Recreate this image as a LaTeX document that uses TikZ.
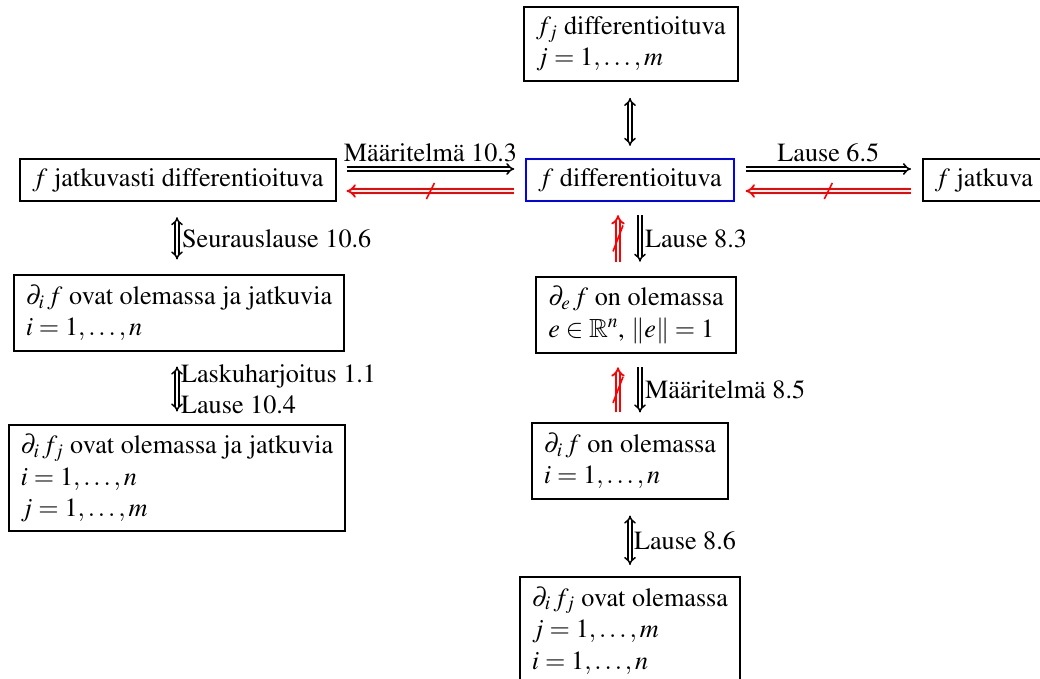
\documentclass[tikz,border=0pt]{standalone}
\usepackage[T1]{fontenc}
\usepackage{amssymb}
\usepackage{mathptmx}
\usetikzlibrary{arrows.meta,calc}
\begin{document}
\begin{tikzpicture}[x=1pt,y=-1pt,
  every node/.style={font=\fontsize{26.2}{31.5}\selectfont},
  box/.style={draw, line width=2pt, align=left, inner xsep=12pt, inner ysep=9.5pt},
  bluebox/.style={box, draw=blue},
  imp/.style={double, line width=1.5pt, double distance=2.4pt, -{Implies}},
  eqv/.style={double, line width=1.5pt, double distance=2.4pt, {Implies}-{Implies}},
  nimp/.style={double, draw=red, line width=1.8pt, double distance=2.6pt, -{Implies}},
  slashline/.style={draw=red, line width=1.6pt}
]
\useasboundingbox (0,0) rectangle (1040,679);

\node[box] (fj) at (631,44) {$f_j$ differentioituva\\ $j=1,\dots,m$};
\node[box] (jd) at (178,180) {$f$ jatkuvasti differentioituva};
\node[bluebox] (fd) at (630,180) {$f$ differentioituva};
\node[box, anchor=west] (fc) at (922,180) {$f$ jatkuva};
\node[box] (pf) at (179,313) {$\partial_i\,f$ ovat olemassa ja jatkuvia\\ $i=1,\dots,n$};
\node[box] (de) at (636,315) {$\partial_e\,f$ on olemassa\\ $e\in\mathbb{R}^n$, $\|e\|=1$};
\node[box] (pfj) at (177,478) {$\partial_i\,f_j$ ovat olemassa ja jatkuvia\\ $i=1,\dots,n$\\ $j=1,\dots,m$};
\node[box] (pi) at (630,461) {$\partial_i\,f$ on olemassa\\ $i=1,\dots,n$};
\node[box, anchor=north] (pij) at (630,576) {$\partial_i\,f_j$ ovat olemassa\\ $j=1,\dots,m$\\ $i=1,\dots,n$};

% horizontal, left
\draw[imp] ($(jd.east)+(10,-11)$) -- node[above=3pt]{Määritelmä 10.3} ($(fd.west)+(-11,-11)$);
\draw[nimp] ($(fd.west)+(-11,11)$) -- coordinate (s1) ($(jd.east)+(10,11)$);
\draw[slashline] ($(s1)+(4,-8)$) -- ($(s1)+(-4,8)$);
% horizontal, right
\draw[imp] ($(fd.east)+(11,-11)$) -- node[above=3pt]{Lause 6.5} ($(fc.west)+(-11,-11)$);
\draw[nimp] ($(fc.west)+(-11,11)$) -- coordinate (s2) ($(fd.east)+(11,11)$);
\draw[slashline] ($(s2)+(4,-8)$) -- ($(s2)+(-4,8)$);

% top
\draw[eqv] ($(fd.north |- fj.south)+(0,16)$) -- ($(fd.north)+(0,-12)$);

% fd - de
\draw[nimp] ($(fd.south |- de.north)+(-12,-14)$) -- coordinate (s3) ($(fd.south)+(-12,13)$);
\draw[slashline] ($(s3)+(5,-13)$) -- ($(s3)+(-5,13)$);
\draw[imp] ($(fd.south)+(10,13)$) -- node[right=1pt]{Lause 8.3} ($(fd.south |- de.north)+(10,-14)$);

% de - pi
\draw[nimp] ($(fd.south |- pi.north)+(-12,-10)$) -- coordinate (s4) ($(fd.south |- de.south)+(-12,13)$);
\draw[slashline] ($(s4)+(5,-13)$) -- ($(s4)+(-5,13)$);
\draw[imp] ($(fd.south |- de.south)+(10,13)$) -- node[right=1pt]{Määritelmä 8.5} ($(fd.south |- pi.north)+(10,-10)$);

% pi - pij
\draw[eqv] ($(pi.south)+(0,16)$) -- node[right]{Lause 8.6} ($(pij.north)+(0,-11)$);

% left column
\draw[eqv] ($(jd.south)+(-1,15)$) -- node[right=1pt]{Seurauslause 10.6} ($(jd.south |- pf.north)+(-1,-15)$);
\draw[eqv] ($(jd.south |- pf.south)+(-1,15)$) -- node[right, align=left]{Laskuharjoitus 1.1\\Lause 10.4} ($(jd.south |- pfj.north)+(-1,-12)$);
\end{tikzpicture}
\end{document}
